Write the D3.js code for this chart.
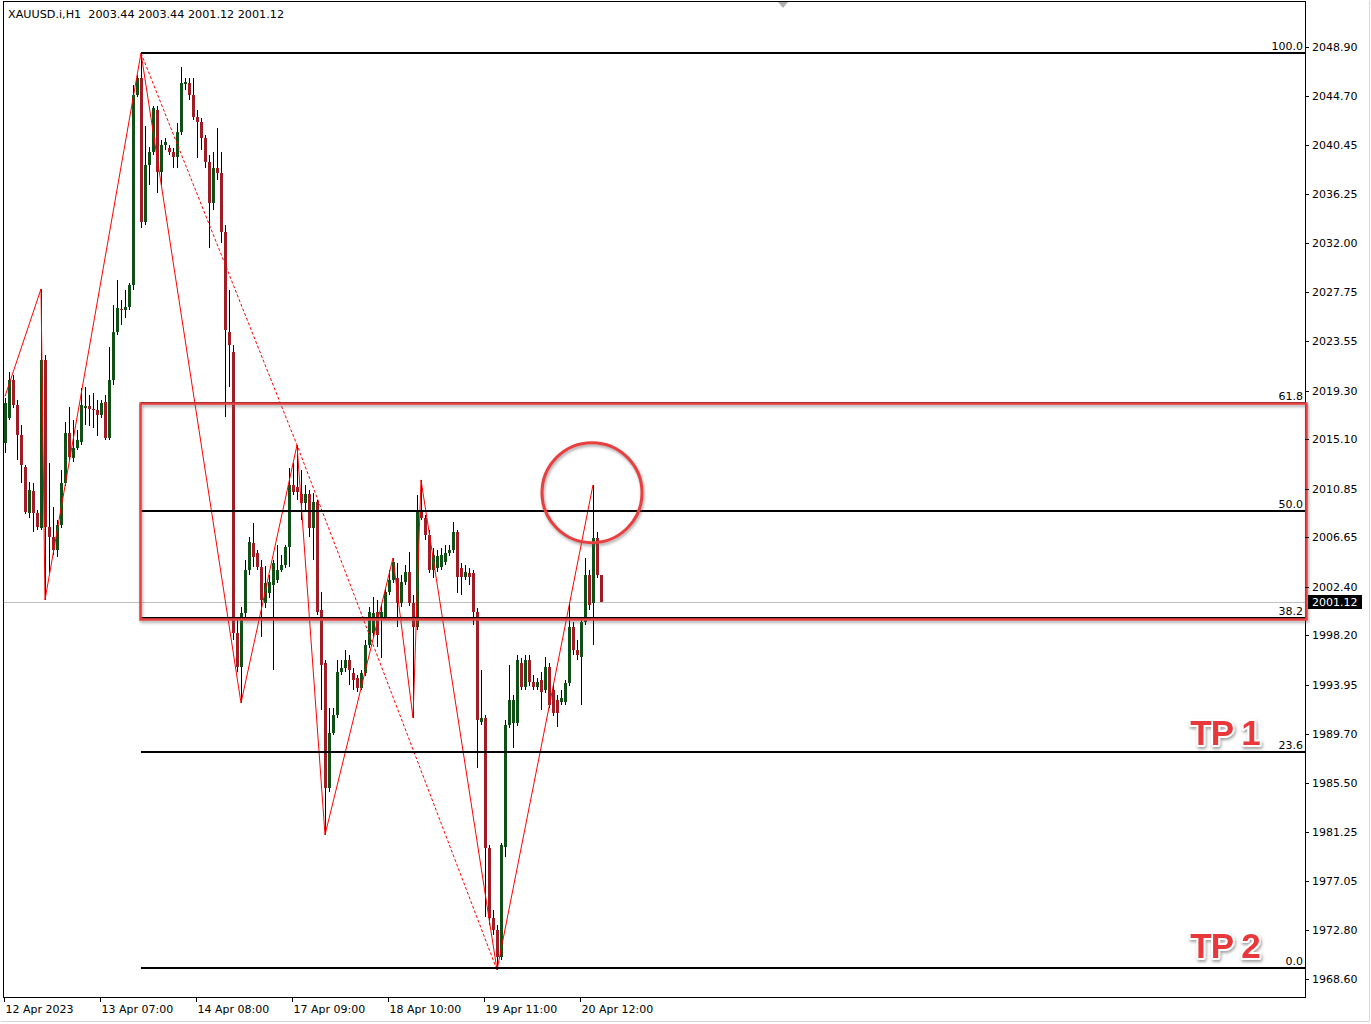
<!DOCTYPE html>
<html><head><meta charset="utf-8">
<script src="https://cdn.jsdelivr.net/npm/d3@7"></script>
<style>
html,body{margin:0;padding:0;background:#fff;}
svg{display:block;font-family:"DejaVu Sans",Verdana,sans-serif;}
</style></head><body>
<svg id="chart" width="1371" height="1024"></svg>
<script>
// ---------- DATA ----------
const title = "XAUUSD.i,H1  2003.44 2003.44 2001.12 2001.12";
const opens = [
 2014.79,2016.94,2020.20,2018.06,2015.47,2012.72,2008.75,2010.65,2008.75,2007.46,
 2021.93,2007.54,2006.68,2005.56,2007.72,2011.34,2015.64,2013.49,2014.35,2014.87,
 2017.80,2017.97,2017.72,2017.63,2017.20,2018.32,2015.21,2020.20,2024.34,2026.32,
 2026.24,2026.50,2028.39,2044.77,2046.23,2033.82,2038.73,2039.86,2043.47,2038.13,
 2040.46,2040.20,2039.86,2039.42,2041.58,2045.71,2045.80,2044.77,2042.87,2042.44,
 2041.06,2038.99,2035.46,2038.48,2038.04,2032.96,2024.34,2022.62,1998.42,1995.49,
 2000.14,2003.84,2006.17,2005.30,2004.10,2001.00,2001.86,2002.55,2002.98,2003.84,
 2004.27,2005.82,2011.17,2011.00,2010.35,2009.61,2010.35,2007.46,2009.70,2000.40,
 1995.83,1985.06,1989.80,1991.35,1995.06,1995.40,1996.09,1994.97,1994.54,1993.68,
 1994.97,1997.38,1998.42,2000.22,1999.79,1999.79,2001.95,2002.98,2003.15,2001.00,
 2002.81,2003.67,2001.00,1998.93,2009.01,2008.32,2006.86,2003.84,2004.01,2004.10,
 2004.53,2005.30,2005.56,2007.11,2004.01,2003.24,2003.58,2003.58,2000.22,1990.75,
 1991.09,1979.89,1973.86,1972.83,1970.50,1979.98,1990.49,1990.66,1990.66,1995.83,
 1993.76,1996.09,1994.19,1993.76,1994.37,1993.50,1995.49,1993.50,1992.64,1992.47,
 1992.47,1994.11,1998.93,1996.95,1996.35,1999.36,2003.41,2001.00,2006.60,2003.44];
const highs = [
 2018.66,2020.89,2020.63,2018.49,2016.33,2012.89,2011.42,2011.34,2009.01,2028.05,
 2022.36,2013.06,2009.27,2008.14,2012.46,2016.59,2017.89,2016.77,2015.90,2019.52,
 2019.61,2018.92,2019.09,2018.49,2018.49,2018.92,2023.05,2026.67,2028.82,2027.10,
 2027.96,2028.56,2045.62,2046.49,2048.38,2042.09,2040.28,2043.82,2043.82,2040.89,
 2041.06,2040.46,2040.20,2042.35,2047.18,2046.23,2046.23,2046.23,2043.47,2042.78,
 2041.32,2039.60,2039.86,2041.92,2039.86,2033.56,2027.96,2023.23,1999.53,2000.65,
 2004.70,2006.68,2007.89,2005.56,2004.70,2004.18,2003.41,2004.70,2005.99,2005.13,
 2005.99,2012.63,2013.06,2014.61,2012.46,2011.17,2010.73,2010.48,2009.87,2001.95,
 1996.09,1991.95,1991.95,1996.09,1996.09,1996.95,1996.52,1995.40,1994.80,1995.23,
 1997.81,2000.65,2001.52,2001.26,2000.83,2002.29,2003.84,2004.87,2004.44,2003.41,
 2004.27,2005.39,2001.69,2010.30,2011.60,2008.58,2007.29,2005.73,2005.56,2005.73,
 2005.99,2005.99,2007.98,2007.29,2004.44,2004.27,2004.01,2003.84,2000.57,1995.23,
 1991.35,1980.15,1974.55,1973.26,1980.32,1990.92,1995.66,1993.07,1996.52,1996.26,
 1996.52,1996.52,1994.80,1994.54,1995.06,1996.35,1995.83,1993.93,1993.07,1993.50,
 1994.37,2001.00,1999.36,1997.81,1999.70,2004.87,2003.84,2011.17,2007.11,2003.44];
const lows = [
 2013.92,2016.77,2017.80,2013.32,2011.34,2008.66,2008.32,2007.11,2007.29,2007.29,
 2001.26,2003.58,2005.13,2004.96,2007.46,2011.08,2013.32,2013.15,2014.18,2014.61,
 2016.33,2016.25,2016.08,2015.39,2016.94,2015.04,2015.04,2019.78,2024.08,2024.95,
 2025.55,2026.24,2027.96,2044.59,2033.31,2033.56,2037.01,2039.60,2036.32,2037.01,
 2040.03,2039.60,2038.48,2038.48,2041.32,2045.20,2044.33,2042.61,2039.34,2040.03,
 2038.48,2031.58,2034.86,2037.44,2032.01,2017.03,2019.61,1997.81,1995.06,1992.38,
 1999.79,2003.41,2004.10,2003.84,1998.07,2000.57,2001.43,1995.23,2002.72,2003.67,
 2004.01,2004.10,2010.30,2009.87,2008.14,2009.01,2006.68,2004.70,1999.96,1991.78,
 1981.02,1984.72,1989.63,1991.09,1994.80,1995.06,1993.93,1993.50,1993.33,1993.50,
 1994.71,1997.12,1998.07,1997.21,1996.26,1999.53,2001.69,2002.72,1998.93,2000.65,
 2002.55,2000.74,1991.09,1998.67,2008.14,2006.42,2003.58,2003.15,2003.67,2003.84,
 2004.27,2005.04,2005.30,2001.86,2001.69,2002.98,2002.55,1999.10,1986.78,1990.49,
 1973.95,1973.26,1972.39,1969.38,1970.24,1979.12,1990.23,1988.51,1990.40,1993.50,
 1993.50,1993.85,1993.50,1993.50,1991.78,1993.24,1991.95,1991.26,1990.32,1992.21,
 1992.21,1993.85,1996.52,1996.09,1992.21,1999.10,2000.40,1997.38,2003.15,2001.12];
const closes = [
 2018.23,2020.20,2018.06,2015.47,2012.89,2008.84,2010.73,2008.75,2007.54,2021.93,
 2007.54,2006.68,2005.56,2007.72,2011.34,2015.64,2013.58,2014.35,2015.04,2018.06,
 2017.97,2017.72,2017.63,2017.20,2018.23,2015.21,2020.20,2024.34,2026.41,2026.24,
 2026.50,2028.39,2044.77,2046.23,2033.82,2038.73,2039.86,2043.65,2038.13,2040.46,
 2040.72,2039.86,2039.42,2041.58,2045.80,2045.88,2044.77,2042.87,2042.44,2041.06,
 2038.99,2035.46,2038.48,2038.04,2032.96,2024.52,2023.23,1998.42,1995.49,2000.14,
 2003.84,2006.25,2004.96,2004.10,2001.26,2002.72,2002.81,2004.44,2003.84,2004.27,
 2005.82,2011.17,2010.57,2010.52,2009.61,2010.35,2007.46,2009.70,2000.22,1995.66,
 1985.06,1989.80,1991.35,1995.06,1995.40,1996.09,1995.23,1994.37,1993.68,1994.97,
 1997.38,2000.22,2000.14,1998.25,2000.22,2001.95,2002.98,2004.53,2001.00,2002.81,
 2003.67,2001.00,1998.93,2009.01,2008.32,2006.86,2003.84,2005.13,2005.04,2005.13,
 2005.30,2005.56,2007.11,2003.24,2003.24,2003.67,2003.24,2000.22,1990.92,1991.09,
 1979.89,1973.86,1972.83,1970.50,1980.15,1990.49,1992.64,1992.64,1996.09,1993.76,
 1996.09,1994.19,1993.76,1994.19,1993.33,1995.49,1992.21,1991.52,1991.52,1992.81,
 1994.11,1998.93,1996.95,1996.52,1999.36,2003.41,2000.83,2006.60,2003.41,2001.12];

const yTickValues = [2048.90,2044.70,2040.45,2036.25,2032.00,2027.75,2023.55,2019.30,2015.10,2010.85,
 2006.65,2002.40,1998.20,1993.95,1989.70,1985.50,1981.25,1977.05,1972.80,1968.60];
const xTickIndex = [0,24,48,72,96,120,144];
const xTickLabels = ["12 Apr 2023","13 Apr 07:00","14 Apr 08:00","17 Apr 09:00","18 Apr 10:00","19 Apr 11:00","20 Apr 12:00"];

const zigzagIndex = [0,9,10,34,59,73,80,97,102,104,123,147];
const zigzagPrice = [2018.8,2028.05,2001.26,2048.38,1992.38,2014.61,1981.02,2004.87,1991.09,2011.60,1969.38,2011.17];
const dashedIndex = [34,73,123];
const dashedPrice = [2048.38,2014.61,1969.38];

const fibLevels = [100.0,61.8,50.0,38.2,23.6,0.0];
const fibHigh = 2048.38, fibLow = 1969.55, fibStartIndex = 34;
const zoneLevels = [61.8,38.2];
const circleIndex = 146.75, circlePrice = 2010.5;
const lastPrice = 2001.12;
const tpLabels = ["TP 1","TP 2"];
const tpPrices = [1988.75, 1970.45];

// ---------- LAYOUT ----------
const W = 1371, H = 1024;
const plot = {left:3.5, top:1.5, right:1305.5, bottom:997.5};
const GREEN = "#0f5016", RED = "#a01d25", ZONE = "#e8403f";

const svg = d3.select("#chart");
const defs = svg.append("defs");
const sh = defs.append("filter").attr("id","shadow").attr("x","-20%").attr("y","-20%").attr("width","140%").attr("height","140%");
sh.append("feDropShadow").attr("dx",1).attr("dy",2).attr("stdDeviation",1.6).attr("flood-color","#555").attr("flood-opacity",0.55);
defs.append("clipPath").attr("id","clip").append("rect")
  .attr("x",plot.left).attr("y",plot.top).attr("width",plot.right-plot.left).attr("height",plot.bottom-plot.top);

const x = d3.scaleLinear().domain([0,149]).range([5,601]);
const y = d3.scaleLinear().domain([1968.60,2048.90]).range([979,47]);
const fibPrice = lv => fibLow + (fibHigh-fibLow)*lv/100;

svg.append("rect").attr("width",W).attr("height",H).attr("fill","#fff");

// frame
svg.append("rect").attr("x",plot.left).attr("y",plot.top)
  .attr("width",plot.right-plot.left).attr("height",plot.bottom-plot.top)
  .attr("fill","none").attr("stroke","#000").attr("stroke-width",1);
svg.append("path").attr("d","M1369.5,0.5V1021.5H0.5").attr("fill","none").attr("stroke","#d8d8d8");

const g = svg.append("g").attr("clip-path","url(#clip)");

// current price line
g.append("line").attr("x1",plot.left).attr("x2",plot.right)
  .attr("y1",Math.round(y(lastPrice))+0.5).attr("y2",Math.round(y(lastPrice))+0.5)
  .attr("stroke","#c0c0c0").attr("stroke-width",1);

// candles
const bars = d3.range(opens.length).map(i=>({i,o:opens[i],h:highs[i],l:lows[i],c:closes[i]}));
const cg = g.append("g").attr("shape-rendering","crispEdges");
cg.selectAll("line").data(bars).join("line")
  .attr("x1",d=>Math.round(x(d.i))+0.5).attr("x2",d=>Math.round(x(d.i))+0.5)
  .attr("y1",d=>y(d.h)).attr("y2",d=>y(d.l)).attr("stroke","#000").attr("stroke-width",1);
cg.selectAll("rect").data(bars).join("rect")
  .attr("x",d=>Math.round(x(d.i))-1).attr("width",3)
  .attr("y",d=>y(Math.max(d.o,d.c)))
  .attr("height",d=>Math.max(1,Math.abs(y(d.o)-y(d.c))))
  .attr("fill",d=>d.c>=d.o?GREEN:RED);

// zigzag
const zz = zigzagIndex.map((d,k)=>[x(d),y(zigzagPrice[k])]);
g.append("path").attr("d",d3.line()(zz)).attr("fill","none").attr("stroke","#ff0000").attr("stroke-width",1);
const dz = dashedIndex.map((d,k)=>[x(d),y(dashedPrice[k])]);
g.append("path").attr("d",d3.line()(dz)).attr("fill","none").attr("stroke","#ff0000")
  .attr("stroke-width",1).attr("stroke-dasharray","3,2");

// fibonacci
const fg = svg.append("g");
fibLevels.forEach(lv=>{
  const yy = Math.round(y(fibPrice(lv)));
  fg.append("line").attr("x1",x(fibStartIndex)).attr("x2",plot.right)
    .attr("y1",yy).attr("y2",yy).attr("stroke","#000").attr("stroke-width",2);
  fg.append("text").attr("x",1303).attr("y",yy-3).attr("text-anchor","end")
    .attr("font-size",11).attr("fill","#000").text(lv.toFixed(1));
});

// zone rectangle
const zTop = y(fibPrice(zoneLevels[0])), zBot = y(fibPrice(zoneLevels[1]));
svg.append("rect").attr("x",x(fibStartIndex)-0.5).attr("y",zTop+1)
  .attr("width",1307-x(fibStartIndex)).attr("height",zBot-zTop)
  .attr("fill","none").attr("stroke",ZONE).attr("stroke-width",2.5).attr("filter","url(#shadow)");

// circle
svg.append("circle").attr("cx",x(circleIndex)).attr("cy",y(circlePrice)).attr("r",50)
  .attr("fill","none").attr("stroke",ZONE).attr("stroke-width",3).attr("filter","url(#shadow)");

// TP labels
tpLabels.forEach((t,k)=>{
  svg.append("text").attr("x",1225).attr("y",y(tpPrices[k])).attr("text-anchor","middle")
    .attr("font-family","'Liberation Sans',Arial,sans-serif").attr("font-size",35).attr("font-weight","bold")
    .attr("letter-spacing",-1)
    .attr("fill","#e8393b").attr("stroke","#fff").attr("stroke-width",4)
    .attr("paint-order","stroke").attr("stroke-linejoin","round")
    .attr("filter","url(#shadow)").text(t);
});

// right axis
const ax = svg.append("g");
yTickValues.forEach(v=>{
  const yy = Math.round(y(v))+0.5;
  ax.append("line").attr("x1",1305).attr("x2",1309).attr("y1",yy).attr("y2",yy).attr("stroke","#000");
  ax.append("text").attr("x",1312).attr("y",yy).attr("dy","0.35em").attr("font-size",11).attr("fill","#000").text(v.toFixed(2));
});
const ly = Math.round(y(lastPrice));
ax.append("rect").attr("x",1308).attr("y",ly-7).attr("width",54).attr("height",14).attr("fill","#000");
ax.append("text").attr("x",1312).attr("y",ly).attr("dy","0.35em").attr("font-size",11).attr("fill","#fff").text(lastPrice.toFixed(2));

// bottom axis
xTickIndex.forEach((idx,k)=>{
  const xx = Math.round(x(idx))-0.5;
  ax.append("line").attr("x1",xx).attr("x2",xx).attr("y1",997).attr("y2",1002).attr("stroke","#000");
  ax.append("text").attr("x",xx+1).attr("y",1013).attr("font-size",11).attr("fill","#000").text(xTickLabels[k]);
});

// title + shift marker
svg.append("text").attr("x",8).attr("y",18).attr("font-size",11.2).attr("fill","#000").attr("xml:space","preserve").text(title);
svg.append("path").attr("d","M778,2L788,2L783,8Z").attr("fill","#b0b0b0");
</script>
</body></html>
